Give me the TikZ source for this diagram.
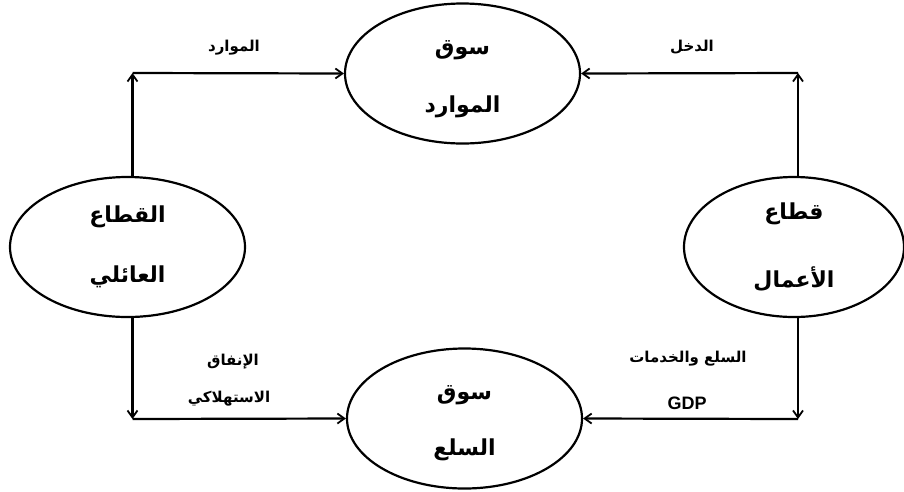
\documentclass[tikz,border=0pt]{standalone}
\usepackage{fontspec}
\setmainfont{Liberation Sans}
\newfontfamily\arabicfont[Script=Arabic]{DejaVu Sans}
\TeXXeTstate=1
\usetikzlibrary{shapes.geometric,arrows.meta}
\begin{document}
\begin{tikzpicture}[x=1pt,y=-1pt,
  ell/.style={ellipse, draw, line width=2.2pt, minimum width=235pt, minimum height=140pt,
    inner sep=0pt, align=center, font=\arabicfont\bfseries\fontsize{22}{24}\selectfont},
  lbl/.style={inner sep=0pt, font=\arabicfont\bfseries\fontsize{15}{17}\selectfont},
  flow/.style={line width=2.2pt, -{Straight Barb[length=7pt,width=10pt,line width=1.8pt]}},
  seg/.style={line width=2.2pt}
]
\useasboundingbox (0,0) rectangle (904,491);
\fill[white] (0,0) rectangle (904,491);

\node[ell] (T) at (462.5,73.5) {\rule{0pt}{26pt}\beginR سوق\endR\\[34pt]\beginR الموارد\endR};
\node[ell] (B) at (464.5,418.5) {\rule{0pt}{24pt}\beginR سوق\endR\\[32pt]\beginR السلع\endR};
\node[ell] (L) at (127.5,247) {\beginR القطاع\endR\\[36pt]\beginR العائلي\endR};
\node[ell, minimum width=220pt] (R) at (794,247) {\beginR قطاع\endR\\[41pt]\beginR الأعمال\endR};

\coordinate (tl) at (132.5,73);
\coordinate (tr) at (798,73);
\coordinate (bl) at (132.5,419);
\coordinate (br) at (798,419);

\draw[flow] (tl |- L.north) -- (tl);
\draw[flow] (tl) -- (T.west);
\draw[flow] (tr |- R.north) -- (tr);
\draw[flow] (tr) -- (T.east);
\draw[flow] (bl |- L.south) -- (bl);
\draw[flow] (bl) -- (B.west);
\draw[flow] (br |- R.south) -- (br);
\draw[flow] (br) -- (B.east);

\node[lbl] (l1) at (234,48) {\beginR الموارد\endR};
\node[lbl] (l2) at (692,47) {\beginR الدخل\endR};
\node[lbl] (l3) at (233,362) {\beginR الإنفاق\endR};
\node[lbl] (l4) at (229,399) {\beginR الاستهلاكي\endR};
\node[lbl] (l5) at (688,359) {\beginR السلع والخدمات\endR};
\node[inner sep=0pt, font=\bfseries\fontsize{18}{20}\selectfont] (l6) at (687,403) {GDP};
\end{tikzpicture}
\end{document}
